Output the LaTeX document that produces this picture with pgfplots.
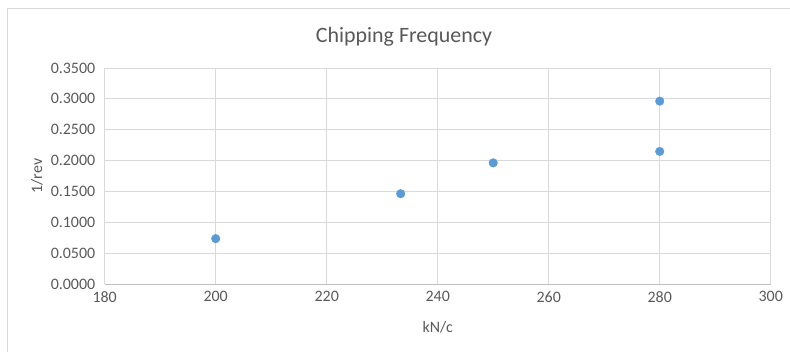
\documentclass[border=0pt]{standalone}
\usepackage{pgfplots}
\pgfplotsset{compat=1.18}
\usepackage{fontspec}
\setmainfont{Carlito}
\definecolor{txtgray}{HTML}{595959}
\definecolor{gridgray}{HTML}{D9D9D9}
\definecolor{axisgray}{HTML}{BFBFBF}
\definecolor{markblue}{HTML}{5B9BD5}
\begin{document}
\begin{tikzpicture}[x=1bp,y=1bp]
\useasboundingbox (0,0) rectangle (790,351);
% chart area frame
\draw[gridgray, line width=0.8bp] (7,-5) -- (7,343) -- (800,343);
\node[txtgray, font=\fontsize{22}{26}\selectfont] at (404,314) {Chipping Frequency};
\begin{axis}[
  at={(104.7bp,67bp)}, anchor=south west,
  scale only axis, width=666bp, height=216bp,
  xmin=180, xmax=300, ymin=0, ymax=0.35,
  xtick={180,200,...,300},
  ytick={0,0.05,...,0.35},
  grid=major,
  major grid style={gridgray, line width=1bp},
  axis line style={draw=none},
  tick style={draw=none},
  ticklabel style={txtgray, font=\fontsize{16}{18}\selectfont},
  /pgf/number format/assume math mode=true,
  yticklabel style={xshift=-6bp, /pgf/number format/.cd, fixed, fixed zerofill, precision=4},
  xticklabel style={yshift=-4bp, /pgf/number format/.cd, fixed},
  xlabel={kN/c}, ylabel={1/rev},
  label style={txtgray, font=\fontsize{16}{18}\selectfont},
  xlabel style={yshift=-12bp},
  ylabel style={yshift=1bp},
  clip=false,
]
\draw[axisgray, line width=1bp] (axis cs:180,0) -- (axis cs:300,0);
\addplot[only marks, mark=*, mark size=4.3bp, markblue, mark options={draw=markblue, fill=markblue}]
  coordinates {
    (200,0.0735)
    (233.33,0.1463)
    (250,0.1963)
    (280,0.2148)
    (280,0.2963)
  };
\end{axis}
\end{tikzpicture}
\end{document}
